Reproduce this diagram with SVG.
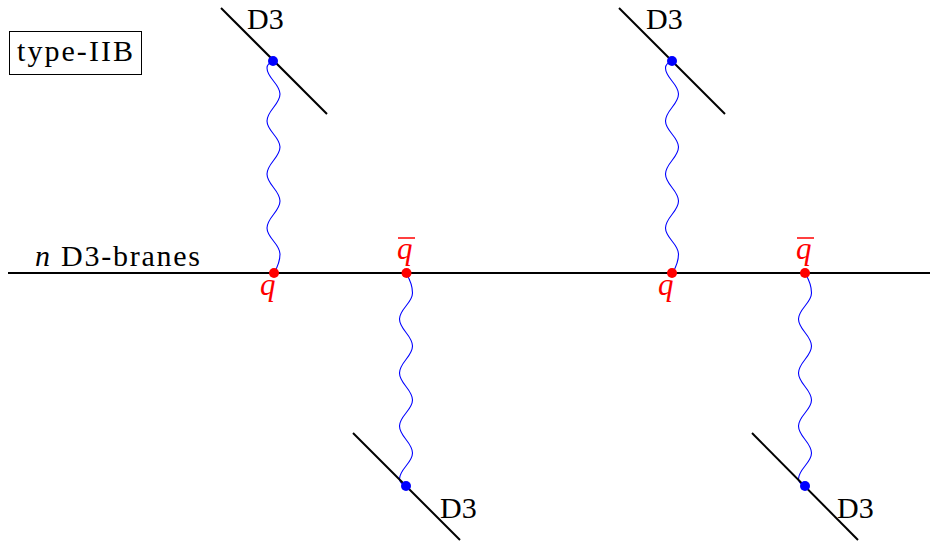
<svg xmlns="http://www.w3.org/2000/svg" xmlns:xlink="http://www.w3.org/1999/xlink" width="930" height="542" viewBox="0 0 930 542">
<style>
.brane{stroke:#000;stroke-width:2;fill:none}
.wave{stroke:#0000ff;stroke-width:1.1;fill:none}
.lbl{font-family:"Liberation Serif","DejaVu Serif",serif;font-size:30px;fill:#000}
.q{font-family:"Liberation Serif","DejaVu Serif",serif;font-size:31px;font-style:italic;fill:#ff0000}
.bar{stroke:#ff0000;stroke-width:1.5}
.rdot{fill:#ff0000}
.bdot{fill:#0000ff}
</style>
<defs>
<path id="w" d="M0,0 C-4,1.5 -6.5,3.5 -6.5,7 C-6.5,17 6.5,23 6.5,33 C6.5,43.5 -6.5,49.5 -6.5,60 C-6.5,70 6.5,76 6.5,86 C6.5,96.5 -6.5,102.5 -6.5,113 C-6.5,123.5 6.5,129.5 6.5,140 C6.5,150.5 -6.5,156.5 -6.5,167 C-6.5,177 6.5,183 6.5,193 C6.5,201 3.5,207 0.5,212"/>
</defs>
<rect width="930" height="542" fill="#fff"/>
<g id="label-box">
<rect x="9.5" y="31.5" width="132" height="43" fill="none" stroke="#000" stroke-width="1"/>
<text class="lbl" x="17" y="61" textLength="116" lengthAdjust="spacing">type-IIB</text>
</g>
<g id="main-brane">
<line class="brane" x1="8" y1="273" x2="930" y2="273"/>
<text class="lbl" x="35" y="266" textLength="165" lengthAdjust="spacing"><tspan font-style="italic">n</tspan> D3-branes</text>
</g>
<g id="connectors">
<use xlink:href="#w" class="wave" transform="translate(273.5,61)"/>
<use xlink:href="#w" class="wave" transform="translate(672,61)"/>
<use xlink:href="#w" class="wave" transform="translate(406,486) scale(1,-1)"/>
<use xlink:href="#w" class="wave" transform="translate(805,486) scale(1,-1)"/>
</g>
<g id="d3-top-left">
<line class="brane" x1="221" y1="8" x2="327" y2="114"/>
<circle class="bdot" cx="273" cy="61" r="5"/>
<text class="lbl" x="247" y="29">D3</text>
</g>
<g id="d3-top-right">
<line class="brane" x1="619" y1="8" x2="725" y2="114"/>
<circle class="bdot" cx="672" cy="61" r="5"/>
<text class="lbl" x="646" y="29">D3</text>
</g>
<g id="d3-bottom-left">
<line class="brane" x1="353" y1="433" x2="460" y2="540"/>
<circle class="bdot" cx="406" cy="486" r="5"/>
<text class="lbl" x="440" y="518">D3</text>
</g>
<g id="d3-bottom-right">
<line class="brane" x1="752" y1="433" x2="858" y2="540"/>
<circle class="bdot" cx="805" cy="486" r="5"/>
<text class="lbl" x="837" y="518">D3</text>
</g>
<g id="q1">
<circle class="rdot" cx="274" cy="273" r="5"/>
<text class="q" x="260" y="295">q</text>
</g>
<g id="qbar1">
<circle class="rdot" cx="406.5" cy="273" r="5"/>
<line class="bar" x1="398" y1="238" x2="415" y2="238"/>
<text class="q" x="397" y="259">q</text>
</g>
<g id="q2">
<circle class="rdot" cx="672" cy="273" r="5"/>
<text class="q" x="658" y="295">q</text>
</g>
<g id="qbar2">
<circle class="rdot" cx="805" cy="273" r="5"/>
<line class="bar" x1="797" y1="238" x2="814" y2="238"/>
<text class="q" x="796" y="259">q</text>
</g>
</svg>
